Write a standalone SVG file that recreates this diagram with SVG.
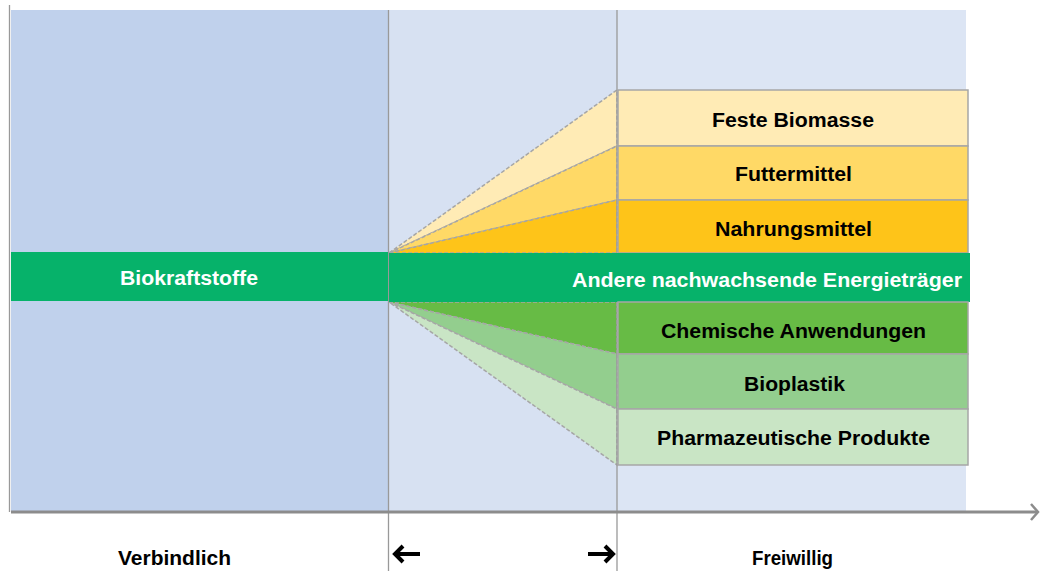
<svg xmlns="http://www.w3.org/2000/svg" width="1041" height="571" viewBox="0 0 1041 571">
<defs>
<style>
.t{font-family:"Liberation Sans",Arial,sans-serif;font-weight:bold;font-size:20px;text-anchor:middle;dominant-baseline:central}
.w{fill:#fff}
.k{fill:#000}
.box{stroke:#A6A6A6;stroke-width:1.5}
.wedge{stroke:#A6A6A6;stroke-width:1.5;stroke-dasharray:4 2}
.vl{stroke:#999;stroke-width:1.3;fill:none}
</style>
</defs>
<rect width="1041" height="571" fill="#fff"/>
<g id="background">
<rect x="11" y="10" width="378" height="502" fill="#C0D1EC"/>
<rect x="389" y="10" width="228" height="502" fill="#D7E1F2"/>
<rect x="617" y="10" width="349" height="502" fill="#DCE5F4"/>
</g>
<g id="wedges">
<path class="wedge" d="M389,253 L617,90 L617,146 Z" fill="#FFEBB5"/>
<path class="wedge" d="M389,253 L617,146 L617,200 Z" fill="#FFD966"/>
<path class="wedge" d="M389,253 L617,200 L617,253 Z" fill="#FEC419"/>
<path class="wedge" d="M389,302 L617,302 L617,354 Z" fill="#67BB45"/>
<path class="wedge" d="M389,302 L617,354 L617,409 Z" fill="#93CE8E"/>
<path class="wedge" d="M389,302 L617,409 L617,465 Z" fill="#C9E5C5"/>
</g>
<g id="axes">
<line class="vl" x1="9.5" y1="5" x2="9.5" y2="512"/>
<line class="vl" x1="388.5" y1="10" x2="388.5" y2="571"/>
<line class="vl" x1="617" y1="10" x2="617" y2="571"/>
<line x1="11" y1="512" x2="1037" y2="512" stroke="#8C8C8C" stroke-width="3"/>
<path d="M1031,504 L1038,512 L1031,520" fill="none" stroke="#8C8C8C" stroke-width="2.5"/>
</g>
<g id="node-biokraftstoffe">
<rect x="11" y="252" width="377" height="49" fill="#06B26A"/>
<text class="t w" x="189" y="278" textLength="138" lengthAdjust="spacingAndGlyphs">Biokraftstoffe</text>
</g>
<g id="node-feste">
<rect class="box" x="618" y="90" width="350" height="56" fill="#FFEBB5"/>
<text class="t k" x="793" y="120" textLength="162" lengthAdjust="spacingAndGlyphs">Feste Biomasse</text>
</g>
<g id="node-futter">
<rect class="box" x="618" y="146" width="350" height="54" fill="#FFD966"/>
<text class="t k" x="793.5" y="174" textLength="117" lengthAdjust="spacingAndGlyphs">Futtermittel</text>
</g>
<g id="node-nahrung">
<rect class="box" x="618" y="200" width="350" height="53" fill="#FEC419"/>
<text class="t k" x="793.5" y="229" textLength="157" lengthAdjust="spacingAndGlyphs">Nahrungsmittel</text>
</g>
<g id="node-andere">
<rect x="389" y="253" width="581" height="49" fill="#06B26A"/>
<text class="t w" x="767" y="280" textLength="390" lengthAdjust="spacingAndGlyphs">Andere nachwachsende Energieträger</text>
</g>
<g id="node-chemisch">
<rect class="box" x="618" y="302" width="350" height="52" fill="#67BB45"/>
<text class="t k" x="793.5" y="331" textLength="265" lengthAdjust="spacingAndGlyphs">Chemische Anwendungen</text>
</g>
<g id="node-bioplastik">
<rect class="box" x="618" y="354" width="350" height="55" fill="#93CE8E"/>
<text class="t k" x="794.5" y="384" textLength="101" lengthAdjust="spacingAndGlyphs">Bioplastik</text>
</g>
<g id="node-pharma">
<rect class="box" x="618" y="409" width="350" height="56" fill="#C9E5C5"/>
<text class="t k" x="793.5" y="438" textLength="273" lengthAdjust="spacingAndGlyphs">Pharmazeutische Produkte</text>
</g>
<g id="labels">
<text class="t k" x="174.5" y="558" textLength="113" lengthAdjust="spacingAndGlyphs">Verbindlich</text>
<text class="t k" x="792.5" y="558" textLength="81" lengthAdjust="spacingAndGlyphs">Freiwillig</text>
<path d="M420,554 L395,554 M403,546 L395,554 L403,562" fill="none" stroke="#000" stroke-width="4"/>
<path d="M588,554 L613,554 M605,546 L613,554 L605,562" fill="none" stroke="#000" stroke-width="4"/>
</g>
</svg>
